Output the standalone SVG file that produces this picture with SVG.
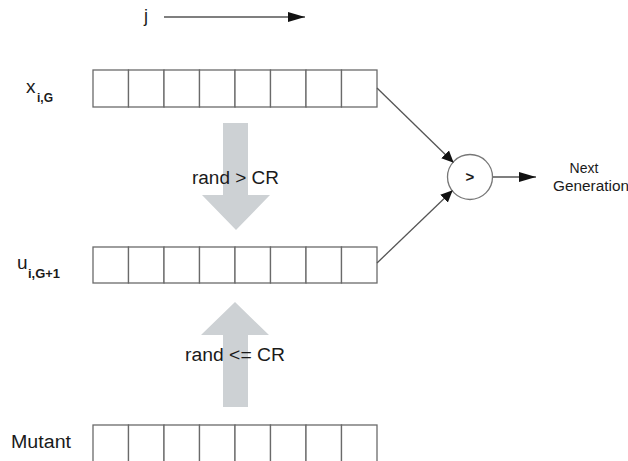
<svg xmlns="http://www.w3.org/2000/svg" width="628" height="461" viewBox="0 0 628 461">
<style>
text{font-family:"Liberation Sans",Arial,sans-serif;fill:#1a1a1a}
.cell{fill:#fff;stroke:#6a6a6a;stroke-width:1.3}
.line{stroke:#555;stroke-width:1.3;fill:none}
.big{fill:#cdd1d4}
.lbl{font-size:18px}
</style>
<defs>
<marker id="ah" markerWidth="12" markerHeight="12" refX="11" refY="6" orient="auto" markerUnits="userSpaceOnUse">
<path d="M0,0.5 L12,6 L0,11.5 Z" fill="#111"/>
</marker>
<marker id="ah2" markerWidth="17" markerHeight="11" refX="17" refY="5.5" orient="auto" markerUnits="userSpaceOnUse">
<path d="M0,0.5 L17,5.5 L0,10.5 Z" fill="#111"/>
</marker>
</defs>
<rect width="628" height="461" fill="#fff"/>

<g id="j-axis">
<text x="144" y="22" font-size="18">j</text>
<line class="line" x1="164" y1="17" x2="305" y2="17" marker-end="url(#ah2)"/>
</g>

<g id="row-x">
<text x="26" y="93" font-size="19">x</text>
<text x="37" y="102" font-size="12" font-weight="bold">i,G</text>
<g transform="translate(93,70)">
<rect class="cell" x="0" y="0" width="35.5" height="37"/>
<rect class="cell" x="35.5" y="0" width="35.5" height="37"/>
<rect class="cell" x="71" y="0" width="35.5" height="37"/>
<rect class="cell" x="106.5" y="0" width="35.5" height="37"/>
<rect class="cell" x="142" y="0" width="35.5" height="37"/>
<rect class="cell" x="177.5" y="0" width="35.5" height="37"/>
<rect class="cell" x="213" y="0" width="35.5" height="37"/>
<rect class="cell" x="248.5" y="0" width="35.5" height="37"/>
</g>
</g>

<g id="row-u">
<text x="17" y="269" font-size="19">u</text>
<text x="28" y="278" font-size="12" font-weight="bold" textLength="32" lengthAdjust="spacingAndGlyphs">i,G+1</text>
<g transform="translate(93,247)">
<rect class="cell" x="0" y="0" width="35.5" height="36"/>
<rect class="cell" x="35.5" y="0" width="35.5" height="36"/>
<rect class="cell" x="71" y="0" width="35.5" height="36"/>
<rect class="cell" x="106.5" y="0" width="35.5" height="36"/>
<rect class="cell" x="142" y="0" width="35.5" height="36"/>
<rect class="cell" x="177.5" y="0" width="35.5" height="36"/>
<rect class="cell" x="213" y="0" width="35.5" height="36"/>
<rect class="cell" x="248.5" y="0" width="35.5" height="36"/>
</g>
</g>

<g id="row-mutant">
<text x="11" y="448" font-size="18" textLength="60" lengthAdjust="spacingAndGlyphs">Mutant</text>
<g transform="translate(93,425)">
<rect class="cell" x="0" y="0" width="35.5" height="40"/>
<rect class="cell" x="35.5" y="0" width="35.5" height="40"/>
<rect class="cell" x="71" y="0" width="35.5" height="40"/>
<rect class="cell" x="106.5" y="0" width="35.5" height="40"/>
<rect class="cell" x="142" y="0" width="35.5" height="40"/>
<rect class="cell" x="177.5" y="0" width="35.5" height="40"/>
<rect class="cell" x="213" y="0" width="35.5" height="40"/>
<rect class="cell" x="248.5" y="0" width="35.5" height="40"/>
</g>
</g>

<g id="arrow-down">
<path class="big" d="M223,123 L248,123 L248,195 L270,195 L236,230 L202,195 L223,195 Z"/>
<text x="192" y="184" class="lbl" textLength="87" lengthAdjust="spacingAndGlyphs">rand &gt; CR</text>
</g>

<g id="arrow-up">
<path class="big" d="M223,407 L248,407 L248,335 L269,335 L235,302 L201,335 L223,335 Z"/>
<text x="185" y="361" class="lbl" textLength="100" lengthAdjust="spacingAndGlyphs">rand &lt;= CR</text>
</g>

<g id="compare">
<circle cx="470" cy="177" r="22.5" fill="#fff" stroke="#777" stroke-width="1.3"/>
<text x="470" y="182" font-size="15" font-weight="bold" text-anchor="middle">&gt;</text>
</g>

<g id="next-gen">
<text x="584" y="173" font-size="14" text-anchor="middle">Next</text>
<text x="553" y="191" font-size="14" textLength="76" lengthAdjust="spacingAndGlyphs">Generation</text>
</g>

<g id="connectors">
<line class="line" x1="377" y1="88" x2="453" y2="162" marker-end="url(#ah)"/>
<line class="line" x1="377" y1="263" x2="452" y2="191" marker-end="url(#ah)"/>
<line class="line" x1="493" y1="177" x2="536" y2="177" marker-end="url(#ah2)"/>
</g>
</svg>
